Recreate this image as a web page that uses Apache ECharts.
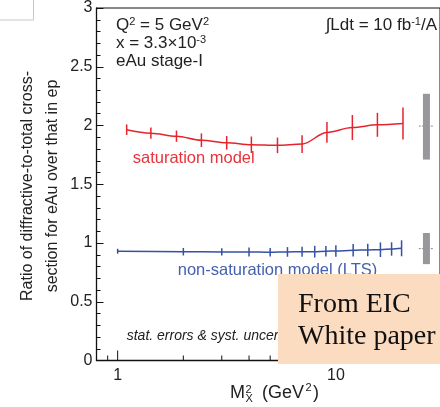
<!DOCTYPE html>
<html>
<head>
<meta charset="utf-8">
<script src="https://cdn.jsdelivr.net/npm/echarts@6/dist/echarts.min.js"></script>
<style>html,body{margin:0;padding:0;background:#fff}#c{width:440px;height:407px}</style>
</head>
<body>
<div id="c"></div>
<script>
// ---- data ----
const xRed = [1.1, 1.42, 1.86, 2.42, 3.16, 4.1, 5.4, 7, 9.1, 11.9, 15.5, 20.3];
const yRed = [1.964, 1.935, 1.909, 1.875, 1.853, 1.836, 1.831, 1.842, 1.941, 1.983, 2.006, 2.017];
const eRed = [0.045, 0.048, 0.048, 0.058, 0.058, 0.070, 0.066, 0.075, 0.088, 0.106, 0.102, 0.137];

const xBlue = [1, 2, 3, 4, 5, 6, 7, 8, 9, 10, 12, 14, 16, 18, 20];
const yBlue = [0.930, 0.926, 0.924, 0.924, 0.921, 0.924, 0.926, 0.926, 0.930, 0.932, 0.938, 0.941, 0.943, 0.949, 0.955];
const eBlue = [0.021, 0.032, 0.031, 0.038, 0.036, 0.041, 0.042, 0.050, 0.045, 0.049, 0.053, 0.053, 0.062, 0.057, 0.068];

// normalisation uncertainty bands at right edge: [xCenter, low, high, centre, dotLeft, dotRight]
const normBands = [[26, 1.71, 2.27, 1.995, 24, 28.1], [26, 0.82, 1.085, 0.952, 24, 28.1]];

const xMajorTicks = [1, 10];
const xMinorTicks = [0.9, 2, 3, 4, 5, 6, 7, 8, 9, 20];
const xLabels = [1, 10];
const yTicks = [0, 0.5, 1, 1.5, 2, 2.5, 3];

const RED = '#e5242d', BLUE = '#3551a3';
const SANS = '"Liberation Sans", Arial, Helvetica, sans-serif';

const chart = echarts.init(document.getElementById('c'), null, {renderer: 'canvas'});

function errSeries(xs, ys, es, color) {
  return {
    type: 'custom', coordinateSystem: 'cartesian2d', z: 3,
    data: xs.map((x, i) => [x, ys[i], es[i]]),
    encode: {x: 0, y: 1},
    renderItem: function (params, api) {
      const x = api.value(0), y = api.value(1), e = api.value(2);
      const a = api.coord([x, y + e]), b = api.coord([x, y - e]);
      return {type: 'line', shape: {x1: a[0], y1: a[1], x2: b[0], y2: b[1]}, style: {stroke: color, lineWidth: 1.5}};
    }
  };
}
function tickSeries(xs, len) {
  return {
    type: 'custom', coordinateSystem: 'cartesian2d', z: 5, silent: true,
    data: xs.map(x => [x, 0]),
    encode: {x: 0, y: 1},
    renderItem: function (params, api) {
      const p = api.coord([api.value(0), 0]);
      return {type: 'line', shape: {x1: p[0], y1: p[1], x2: p[0], y2: p[1] - len}, style: {stroke: '#111', lineWidth: 1}};
    }
  };
}

const supRich = {
  m: {fontSize: 17, fontFamily: SANS, lineHeight: 18, fill: '#222'},
  s: {fontSize: 11, fontFamily: SANS, lineHeight: 8, verticalAlign: 'top', fill: '#222'}
};
function txt(x, y, text, opts) {
  return Object.assign({type: 'text', x: x, y: y, z: 50, silent: true,
    style: {text: text, fontSize: 16, fontFamily: SANS, fill: '#222', align: 'left', verticalAlign: 'middle'}}, opts || {});
}

const option = {
  animation: false,
  backgroundColor: '#fff',
  grid: {left: 96.5, right: -2.8, top: 6.5, bottom: 46.5, show: true, borderColor: '#111', borderWidth: 1, backgroundColor: 'transparent'},
  xAxis: {
    type: 'log', logBase: 10, min: 0.8, max: 30,
    axisLine: {show: true, lineStyle: {color: '#111', width: 1.3}},
    axisTick: {show: false}, minorTick: {show: false}, splitLine: {show: false}, minorSplitLine: {show: false},
    axisLabel: {
      show: true, margin: 7, fontSize: 16, fontFamily: SANS, color: '#222',
      showMinLabel: false, showMaxLabel: false,
      formatter: v => (xLabels.some(t => Math.abs(t - v) < 1e-6) ? String(Math.round(v)) : '')
    }
  },
  yAxis: {
    type: 'value', min: 0, max: 3, interval: 0.5,
    axisLine: {show: true, lineStyle: {color: '#111', width: 1.3}},
    axisTick: {show: true, inside: true, length: 7, lineStyle: {color: '#111'}},
    minorTick: {show: true, splitNumber: 5, length: 4, lineStyle: {color: '#111'}},
    splitLine: {show: false},
    axisLabel: {
      margin: 4, fontSize: 16, fontFamily: SANS, color: '#222', padding: [7, 0, 0, 0],
      formatter: v => (yTicks.some(t => Math.abs(t - v) < 1e-6) ? String(v) : '')
    }
  },
  series: [
    {type: 'line', data: xRed.map((x, i) => [x, yRed[i]]), smooth: 0.35, smoothMonotone: 'x', showSymbol: false, symbol: 'none',
      lineStyle: {color: RED, width: 1.5}, z: 2},
    errSeries(xRed, yRed, eRed, RED),
    {type: 'line', data: xBlue.map((x, i) => [x, yBlue[i]]), smooth: 0.3, smoothMonotone: 'x', showSymbol: false, symbol: 'none',
      lineStyle: {color: BLUE, width: 1.5}, z: 2},
    errSeries(xBlue, yBlue, eBlue, BLUE),
    {
      type: 'custom', coordinateSystem: 'cartesian2d', z: 4, silent: true,
      data: normBands, encode: {x: 0, y: 1},
      renderItem: function (params, api) {
        const xc = api.value(0), lo = api.value(1), hi = api.value(2), c = api.value(3), xl = api.value(4), xr = api.value(5);
        const top = api.coord([xc, hi]), bot = api.coord([xc, lo]);
        const l = api.coord([xl, c]), r = api.coord([xr, c]);
        return {type: 'group', children: [
          {type: 'line', shape: {x1: l[0], y1: l[1], x2: r[0], y2: r[1]}, style: {stroke: '#8a8a8e', lineWidth: 1, lineDash: [2, 1]}},
          {type: 'rect', shape: {x: top[0] - 3.5, y: top[1], width: 7, height: bot[1] - top[1]}, style: {fill: '#98989c'}}
        ]};
      }
    },
    tickSeries(xMajorTicks, 10),
    tickSeries(xMinorTicks, 5)
  ],
  graphic: [
    {type: 'rect', x: -1, y: -1, z: 50, silent: true, shape: {width: 34.5, height: 21}, style: {fill: 'none', stroke: '#c8c8c8', lineWidth: 1}},
    txt(116, 25.3, '', {style: {text: '{m|Q}{s|2}{m| = 5 GeV}{s|2}', rich: supRich, align: 'left', verticalAlign: 'middle'}}),
    txt(116, 43, '', {style: {text: '{m|x = 3.3×10}{s|-3}', rich: supRich, align: 'left', verticalAlign: 'middle'}}),
    txt(116, 61.7, 'eAu stage-I', {style: {text: 'eAu stage-I', fontSize: 17, fontFamily: SANS, fill: '#222', align: 'left', verticalAlign: 'middle'}}),
    txt(437, 25.3, '', {style: {text: '{m|∫Ldt = 10 fb}{s|-1}{m|/A}', rich: supRich, align: 'right', verticalAlign: 'middle'}}),
    txt(132.7, 158.5, 'saturation model', {style: {text: 'saturation model', fontSize: 16.5, fontFamily: SANS, fill: '#e8333c', align: 'left', verticalAlign: 'middle'}}),
    txt(177.7, 270.5, 'non-saturation model (LTS)', {style: {text: 'non-saturation model (LTS)', fontSize: 16.5, fontFamily: SANS, fill: '#4560b0', align: 'left', verticalAlign: 'middle'}}),
    txt(126.7, 336.5, 'stat. errors & syst. uncertainties', {style: {text: 'stat. errors & syst. uncertainties', fontSize: 14, fontStyle: 'italic', fontFamily: SANS, fill: '#222', align: 'left', verticalAlign: 'middle'}}),
    // y axis title
    {type: 'text', x: 40, y: 186, rotation: Math.PI / 2, z: 50, silent: true,
      style: {text: 'Ratio of diffractive-to-total cross-\nsection for eAu over that in ep', fontSize: 16, fontFamily: SANS, fill: '#222',
        align: 'center', verticalAlign: 'middle', lineHeight: 25}},
    // x axis title M_X^2 (GeV^2)
    txt(230, 393, 'M', {style: {text: 'M', fontSize: 18, fontFamily: SANS, fill: '#222', align: 'left', verticalAlign: 'middle'}}),
    txt(245.5, 389.5, '2', {style: {text: '2', fontSize: 11, fontFamily: SANS, fill: '#222', align: 'left', verticalAlign: 'middle'}}),
    txt(245.5, 398.5, 'X', {style: {text: 'X', fontSize: 11, fontFamily: SANS, fill: '#222', align: 'left', verticalAlign: 'middle'}}),
    txt(262, 393, '(GeV', {style: {text: '(GeV', fontSize: 18, fontFamily: SANS, fill: '#222', align: 'left', verticalAlign: 'middle'}}),
    txt(305.5, 387.5, '2', {style: {text: '2', fontSize: 11, fontFamily: SANS, fill: '#222', align: 'left', verticalAlign: 'middle'}}),
    txt(313, 393, ')', {style: {text: ')', fontSize: 18, fontFamily: SANS, fill: '#222', align: 'left', verticalAlign: 'middle'}}),
    // peach overlay box
    {type: 'rect', x: 278, y: 274, z: 100, silent: true, shape: {width: 170, height: 90}, style: {fill: '#fbdcc1'}},
    {type: 'text', x: 298, y: 305, z: 101, silent: true,
      style: {text: 'From EIC', fontSize: 28, fontFamily: '"Liberation Serif", "Times New Roman", serif', fill: '#111', align: 'left', verticalAlign: 'middle'}},
    {type: 'text', x: 298, y: 337, z: 101, silent: true,
      style: {text: 'White paper', fontSize: 28, fontFamily: '"Liberation Serif", "Times New Roman", serif', fill: '#111', align: 'left', verticalAlign: 'middle'}}
  ]
};
chart.setOption(option);
</script>
</body>
</html>
